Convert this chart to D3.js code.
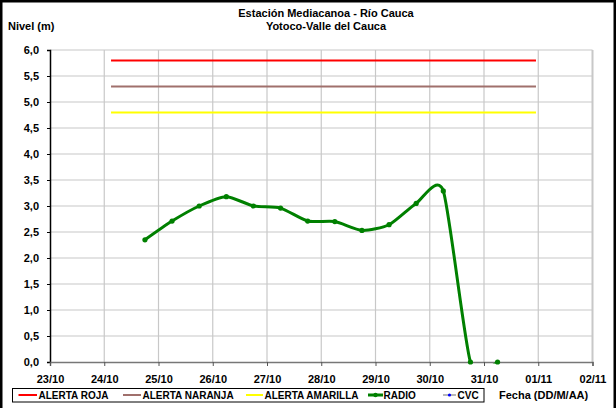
<!DOCTYPE html>
<html>
<head>
<meta charset="utf-8">
<script src="https://cdn.jsdelivr.net/npm/d3@7"></script>
<style>
  body { margin: 0; background: #fff; }
  svg text { font-family: "Liberation Sans", Arial, sans-serif; font-weight: bold; fill: #000; }
</style>
</head>
<body>
<svg id="main-svg"></svg>
<script>
let width = 616;
let height = 408;

// data
let parseTime = d3.timeParse('%Y-%m-%d %H:%M');
let radioTimes = [
  '2014-10-24 18:00', '2014-10-25 06:00', '2014-10-25 18:00', '2014-10-26 06:00',
  '2014-10-26 18:00', '2014-10-27 06:00', '2014-10-27 18:00', '2014-10-28 06:00',
  '2014-10-28 18:00', '2014-10-29 06:00', '2014-10-29 18:00', '2014-10-30 06:00',
  '2014-10-30 18:00', '2014-10-31 06:00'
];
let radioValues = [2.35, 2.71, 3.0, 3.18, 3.0, 2.96, 2.71, 2.70, 2.53, 2.64, 3.05, 3.29, 0, 0];

let alertSpan = ['2014-10-24 03:00', '2014-10-31 23:00'];
let alertNames = ['ALERTA ROJA', 'ALERTA NARANJA', 'ALERTA AMARILLA'];
let alertLevels = [5.8, 5.3, 4.8];
let alertColors = ['#ff0000', '#a0706c', '#ffff00'];

let xDomain = ['2014-10-23 00:00', '2014-11-02 00:00'];
let yTicks = d3.range(0, 6.01, 0.5);

let plot = { left: 50, right: 592.5, top: 50, bottom: 362 };

let svg = d3.select('#main-svg')
  .attr('width', width)
  .attr('height', height);

let x = d3.scaleTime()
  .domain(xDomain.map(parseTime))
  .range([plot.left, plot.right]);
let y = d3.scaleLinear()
  .domain([0, 6])
  .range([plot.bottom, plot.top]);

// outer frame
svg.append('rect')
  .attr('x', 1.25).attr('y', 1.25)
  .attr('width', width - 2.5).attr('height', height + 10)
  .style('fill', 'none').style('stroke', '#000').style('stroke-width', 2.5);

// grid
let xTicks = d3.timeDay.range(parseTime(xDomain[0]), d3.timeDay.offset(parseTime(xDomain[1]), 1));
svg.append('g').selectAll('line').data(yTicks.slice(1))
  .join('line')
    .attr('x1', plot.left).attr('x2', plot.right)
    .attr('y1', d => y(d)).attr('y2', d => y(d))
    .style('stroke', '#c8c8c8').style('stroke-width', 1.2);
svg.append('g').selectAll('line').data(xTicks.slice(1))
  .join('line')
    .attr('x1', d => x(d)).attr('x2', d => x(d))
    .attr('y1', plot.top).attr('y2', plot.bottom)
    .style('stroke', '#c8c8c8')
    .style('stroke-width', (d, i) => i === xTicks.length - 2 ? 2 : 1.2);

// axes
let yAxis = svg.append('g')
  .attr('transform', `translate(${plot.left} 0)`)
  .call(d3.axisLeft(y).tickValues(yTicks).tickSize(3).tickPadding(8)
    .tickFormat(d => d3.format('.1f')(d).replace('.', ',')));
yAxis.select('.domain').style('stroke', '#000').style('stroke-width', 1.5);
yAxis.selectAll('line').style('stroke', '#000');
yAxis.selectAll('text').style('font-size', '11px').style('font-family', '"Liberation Sans", Arial, sans-serif');

let xAxis = svg.append('g')
  .attr('transform', `translate(0 ${plot.bottom})`)
  .call(d3.axisBottom(x).tickValues(xTicks).tickSize(4).tickPadding(9)
    .tickFormat(d3.timeFormat('%d/%m')));
xAxis.select('.domain').style('stroke', '#777').style('stroke-width', 1.5);
xAxis.selectAll('line').style('stroke', '#555');
xAxis.selectAll('text').style('font-size', '11px').style('font-family', '"Liberation Sans", Arial, sans-serif');

// alert lines
svg.append('g').selectAll('line').data(alertLevels)
  .join('line')
    .attr('x1', x(parseTime(alertSpan[0]))).attr('x2', x(parseTime(alertSpan[1])))
    .attr('y1', d => y(d)).attr('y2', d => y(d))
    .style('stroke', (d, i) => alertColors[i])
    .style('stroke-width', 2);

// radio series, smoothed like the spreadsheet, clipped to plot area
svg.append('clipPath').attr('id', 'plot-clip')
  .append('rect')
    .attr('x', plot.left).attr('y', plot.top)
    .attr('width', plot.right - plot.left).attr('height', plot.bottom - plot.top + 1.5);

let radio = radioTimes.map((t, i) => [parseTime(t), radioValues[i]]);
let line = d3.line()
  .x(d => x(d[0]))
  .y(d => y(d[1]))
  .curve(d3.curveCardinal.tension(0.35));

svg.append('path').datum(radio)
  .attr('d', line)
  .attr('clip-path', 'url(#plot-clip)')
  .style('fill', 'none')
  .style('stroke', '#008000')
  .style('stroke-width', 3);

svg.append('g').selectAll('circle').data(radio)
  .join('circle')
    .attr('cx', d => x(d[0]))
    .attr('cy', d => y(d[1]))
    .attr('r', 2.6)
    .style('fill', '#008000');

// titles
svg.append('text')
  .attr('x', 326).attr('y', 17)
  .attr('text-anchor', 'middle')
  .style('font-size', '11px')
  .text('Estación Mediacanoa - Río Cauca');
svg.append('text')
  .attr('x', 326).attr('y', 30)
  .attr('text-anchor', 'middle')
  .style('font-size', '11px')
  .text('Yotoco-Valle del Cauca');
svg.append('text')
  .attr('x', 8).attr('y', 30)
  .style('font-size', '11px')
  .text('Nivel (m)');
svg.append('text')
  .attr('x', 499).attr('y', 399)
  .style('font-size', '11px')
  .text('Fecha (DD/M/AA)');

// legend
let legend = svg.append('g');
legend.append('rect')
  .attr('x', 12.5).attr('y', 388.5)
  .attr('width', 471.5).attr('height', 13.5)
  .style('fill', '#fff').style('stroke', '#000').style('stroke-width', 1);

let legendItems = [
  { name: alertNames[0], color: alertColors[0], x0: 18.5, x1: 37, tx: 38.5 },
  { name: alertNames[1], color: alertColors[1], x0: 123, x1: 141, tx: 142.5 },
  { name: alertNames[2], color: alertColors[2], x0: 246, x1: 263, tx: 264.5 },
  { name: 'RADIO', color: '#008000', x0: 368, x1: 383, tx: 383.5, dot: '#008000', w: 3 },
  { name: 'CVC', color: '#a0a0a0', x0: 443, x1: 456, tx: 457.5, dot: '#0000ff', w: 1.5 }
];
let items = legend.selectAll('g.item').data(legendItems)
  .join('g').attr('class', 'item');
items.append('line')
  .attr('x1', d => d.x0).attr('x2', d => d.x1)
  .attr('y1', 395).attr('y2', 395)
  .style('stroke', d => d.color)
  .style('stroke-width', d => d.w || 2);
items.filter(d => d.dot).append('circle')
  .attr('cx', d => (d.x0 + d.x1) / 2).attr('cy', 395)
  .attr('r', d => d.name === 'CVC' ? 1.6 : 2.2)
  .style('fill', d => d.dot);
items.append('text')
  .attr('x', d => d.tx).attr('y', 398.5)
  .style('font-size', '10px')
  .text(d => d.name);
</script>
</body>
</html>
